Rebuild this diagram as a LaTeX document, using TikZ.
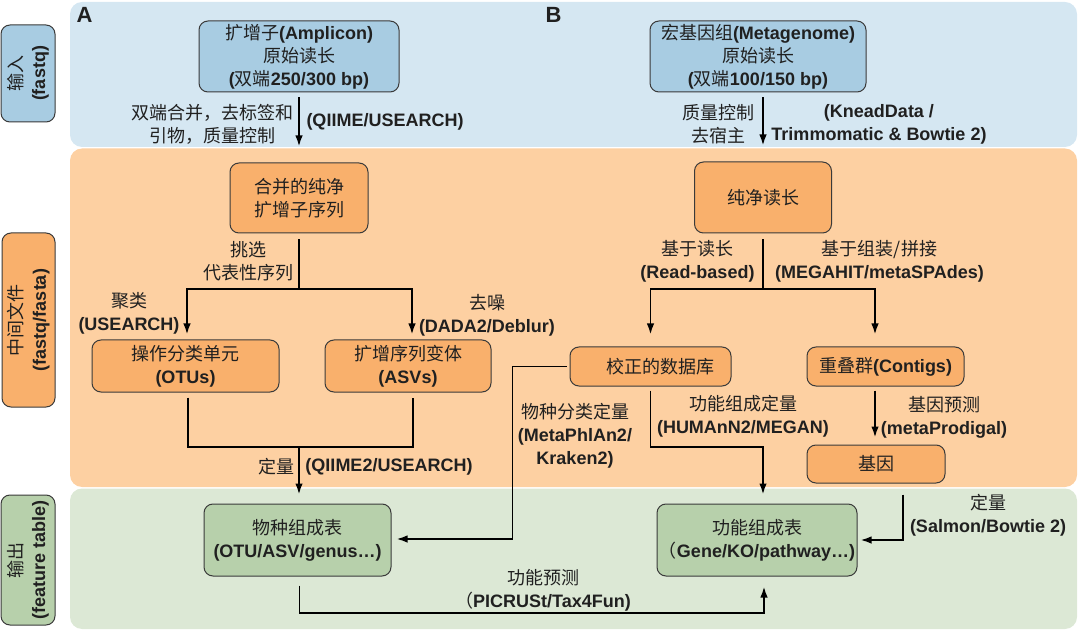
\documentclass[tikz,border=0pt]{standalone}
\usepackage{fontspec}
\setmainfont{Liberation Sans}
\newfontfamily\zhfont{Noto Sans CJK SC}
\newcommand{\zh}[1]{{\zhfont\mdseries #1}}
\usetikzlibrary{arrows.meta}
\definecolor{bandB}{HTML}{D5E7F2}
\definecolor{bandO}{HTML}{FDD0A2}
\definecolor{bandG}{HTML}{DCE8D5}
\definecolor{nodeB}{HTML}{A8CCE2}
\definecolor{nodeO}{HTML}{F9B06C}
\definecolor{nodeG}{HTML}{B7D0AB}
\definecolor{boxline}{HTML}{3A3A3A}
\definecolor{txt}{HTML}{202020}
\begin{document}
\begin{tikzpicture}[x=1pt,y=-1pt,
  every node/.style={font=\bfseries\fontsize{18}{23}\selectfont, text=txt},
  box/.style={draw=boxline, line width=1pt, rounded corners=9pt, align=center, inner sep=0pt},
  bbox/.style={box, fill=nodeB},
  obox/.style={box, fill=nodeO},
  gbox/.style={box, fill=nodeG},
  sidebox/.style={box, rotate=90},
  lbl/.style={align=center, inner sep=0pt},
  ln/.style={line width=1.8pt, draw=black},
  arr/.style={ln, -{Latex[length=11pt,width=7.5pt]}}
]
\useasboundingbox (0,0) rectangle (1080,631);
% bands
\fill[bandB, rounded corners=12pt] (70,2) rectangle (1077,147);
\fill[bandO, rounded corners=12pt] (70,148.5) rectangle (1077,487);
\fill[bandG, rounded corners=12pt] (70,488.5) rectangle (1077,629);
% side labels
\node[sidebox, fill=nodeB, minimum width=97pt, minimum height=54pt] (inL) at (28,73.5) {\zh{输入}\\(fastq)};
\node[sidebox, fill=nodeO, minimum width=174pt, minimum height=53pt] (midL) at (28.5,320) {\zh{中间文件}\\(fastq/fasta)};
\node[sidebox, fill=nodeG, minimum width=130pt, minimum height=54pt] (outL) at (28,560) {\zh{输出}\\(feature table)};
% panel letters
\node[lbl, font=\bfseries\fontsize{22}{26}\selectfont] (A) at (84.5,15) {A};
\node[lbl, font=\bfseries\fontsize{22}{26}\selectfont] (B) at (553.5,15) {B};
% nodes
\node[bbox, minimum width=200pt, minimum height=71pt] (amp) at (299,56.5) {\zh{扩增子}(Amplicon)\\\zh{原始读长}\\(\zh{双端}250/300 bp)};
\node[bbox, minimum width=216pt, minimum height=71pt] (meta) at (758,56.5) {\zh{宏基因组}(Metagenome)\\\zh{原始读长}\\(\zh{双端}100/150 bp)};
\node[obox, minimum width=138pt, minimum height=70pt] (merged) at (299,198) {\zh{合并的纯净}\\\zh{扩增子序列}};
\node[obox, minimum width=137pt, minimum height=71pt] (clean) at (763,197.5) {\zh{纯净读长}};
\node[obox, minimum width=187pt, minimum height=52pt] (otu) at (185.5,366) {\zh{操作分类单元}\\(OTUs)};
\node[obox, minimum width=166pt, minimum height=52pt] (asv) at (408,366) {\zh{扩增序列变体}\\(ASVs)};
\node[obox, minimum width=161pt, minimum height=39pt] (db) at (650.5,366.5) {\hspace*{20pt}\zh{校正的数据库}};
\node[obox, minimum width=157pt, minimum height=39pt] (contig) at (885.5,366.5) {\zh{重叠群}(Contigs)};
\node[obox, minimum width=138pt, minimum height=38pt] (gene) at (876,464) {\zh{基因}};
\node[gbox, minimum width=187pt, minimum height=72pt] (sp) at (297.5,540) {\zh{物种组成表}\\(OTU/ASV/genus…)};
\node[gbox, minimum width=200pt, minimum height=72pt] (fn) at (757,540) {\zh{功能组成表}\\\zh{（}Gene/KO/pathway…)};
% labels
\node[lbl] (l1) at (212,124) {\zh{双端合并，去标签和}\\\zh{引物，质量控制}};
\node[lbl] (l2) at (385,122) {(QIIME/USEARCH)};
\node[lbl] (l3) at (718,124) {\zh{质量控制}\\\zh{去宿主}};
\node[lbl] (l4) at (879,124) {(KneadData /\\Trimmomatic \& Bowtie 2)};
\node[lbl] (l5) at (248.5,261.5) {\zh{挑选}\\\zh{代表性序列}};
\node[lbl] (l6) at (129,313.5) {\zh{聚类}\\(USEARCH)};
\node[lbl] (l7) at (487,315) {\zh{去噪}\\(DADA2/Deblur)};
\node[lbl] (l8) at (697.5,261.5) {\zh{基于读长}\\(Read-based)};
\node[lbl] (l9) at (879.5,261.5) {\zh{基于组装/拼接}\\(MEGAHIT/metaSPAdes)};
\node[lbl] (l10) at (575,436) {\zh{物种分类定量}\\(MetaPhlAn2/\\Kraken2)};
\node[lbl] (l11) at (743,416) {\zh{功能组成定量}\\(HUMAnN2/MEGAN)};
\node[lbl] (l12) at (944,417) {\zh{基因预测}\\(metaProdigal)};
\node[lbl] (l13a) at (276,467) {\zh{定量}};
\node[lbl] (l13b) at (389,467) {(QIIME2/USEARCH)};
\node[lbl] (l14) at (988,515) {\zh{定量}\\(Salmon/Bowtie 2)};
\node[lbl] (l15) at (543,590) {\zh{功能预测}\\\zh{（}PICRUSt/Tax4Fun)};
% coordinates
\coordinate (sL) at (299,289);
\coordinate (sR) at (763,289);
\coordinate (mL) at (299,447);
\coordinate (bot) at (764,613);
\coordinate (dbf) at (763,447);
\coordinate (dbs) at (512.5,539);
% connectors
\draw[arr, shorten <=5pt, shorten >=16pt] (amp.south) -- (merged.north);
\draw[arr, shorten <=5pt, shorten >=16pt] ([xshift=5pt]meta.south) -- (clean.north);
\draw[ln, shorten <=6pt] (merged.south) -- (sL);
\draw[arr, shorten >=5pt] (sL) -| ([xshift=1.5pt]otu.north);
\draw[arr, shorten >=5pt] (sL) -| ([xshift=4pt]asv.north);
\draw[ln] ([xshift=2.5pt,yshift=-5pt]otu.south) |- (mL) -| ([xshift=5pt,yshift=-5pt]asv.south);
\draw[arr, shorten >=9pt] (mL) -- (sp.north -| mL);
\draw[arr, shorten >=10pt] ([xshift=2pt,yshift=-9pt]sp.south) |- (bot) -- (bot |- fn.south);
\draw[ln, shorten <=6pt] (clean.south) -- (sR);
\draw[arr, shorten >=12pt] (sR) -| (db.north);
\draw[arr, shorten >=12pt] (sR) -| ([xshift=-10.5pt]contig.north);
\draw[arr, shorten >=9pt] ([yshift=-4pt]db.south) |- (dbf) -- (dbf |- fn.north);
\draw[arr, shorten <=3pt, shorten >=5pt] (db.west) -| (dbs) -- (dbs -| sp.east);
\draw[arr, shorten <=4pt, shorten >=7pt] ([xshift=-10.5pt]contig.south) -- ([xshift=-10.5pt]contig.south |- gene.north);
\draw[arr, shorten >=3pt] ([xshift=26.6pt,yshift=-11pt]gene.south) |- (fn.east);
\end{tikzpicture}
\end{document}
